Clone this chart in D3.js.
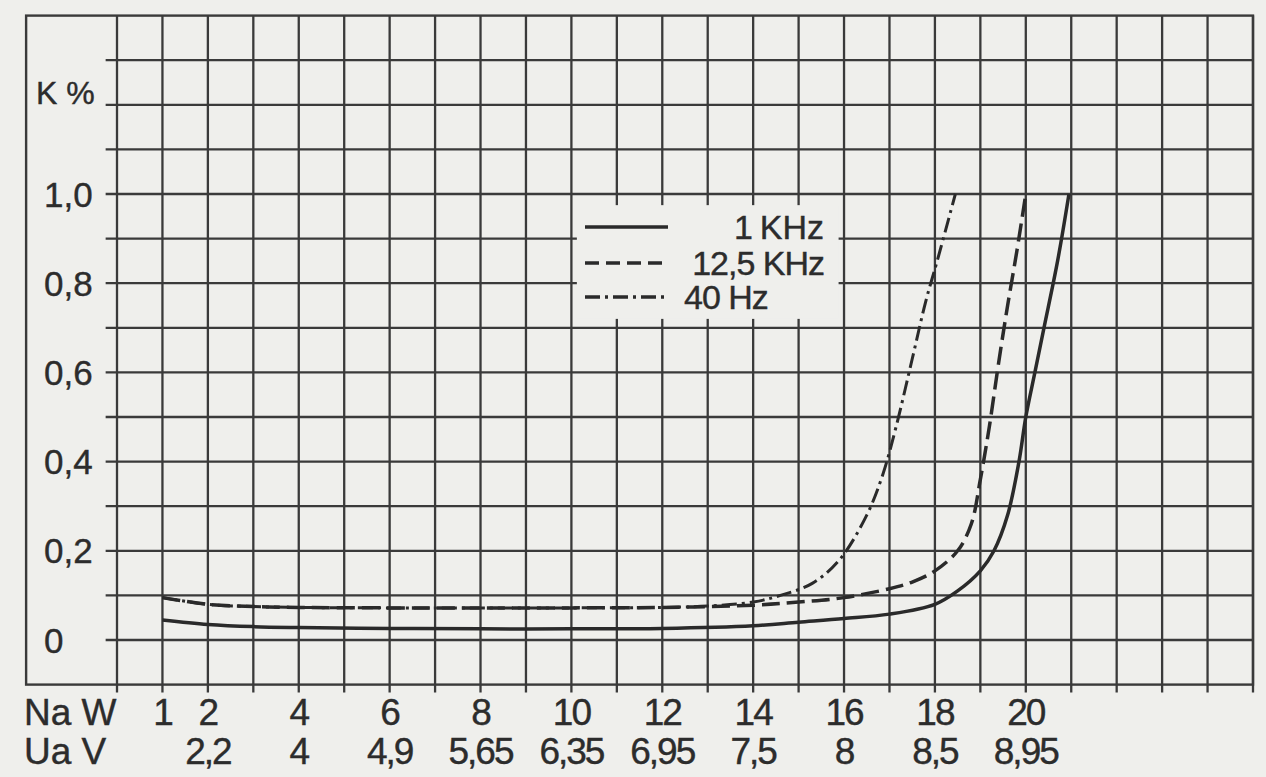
<!DOCTYPE html>
<html>
<head>
<meta charset="utf-8">
<script src="https://cdn.jsdelivr.net/npm/d3@7"></script>
<style>
  body { margin: 0; background: #efefec; }
  text { font-family: "Liberation Sans", Arial, sans-serif; fill: #2c2c2c; stroke: #2c2c2c; stroke-width: 0.4px; }
</style>
</head>
<body>
<svg id="viz" width="1266" height="777"></svg>
<script>
// x axis: output power Na (W) and output voltage Ua (V)
var naTicks = [1, 2, 4, 6, 8, 10, 12, 14, 16, 18, 20];
var uaTicks = [2.2, 4, 4.9, 5.65, 6.35, 6.95, 7.5, 8, 8.5, 8.95];
// y axis: distortion K %
var kTicks = [0, 0.2, 0.4, 0.6, 0.8, 1.0];

var seriesNames = ["1 KHz", "12,5 KHz", "40 Hz"];

// 1 KHz (solid)
var w1k = [1, 2, 3, 4, 6, 8, 10, 12, 14, 15, 16, 17, 18, 18.5, 19, 19.3, 19.6, 19.85, 20.0, 20.2, 20.4, 20.7, 20.95];
var k1k = [0.045, 0.035, 0.03, 0.028, 0.026, 0.025, 0.025, 0.026, 0.032, 0.04, 0.048, 0.058, 0.08, 0.11, 0.155, 0.2, 0.28, 0.40, 0.50, 0.60, 0.70, 0.85, 1.0];

// 12,5 KHz (dashed)
var w125k = [1, 2, 3, 4, 6, 8, 10, 12, 14, 15, 16, 17, 17.5, 18, 18.5, 18.8, 19.0, 19.2, 19.4, 19.6, 19.8, 20.0];
var k125k = [0.095, 0.08, 0.075, 0.073, 0.072, 0.072, 0.072, 0.073, 0.078, 0.085, 0.095, 0.115, 0.13, 0.155, 0.2, 0.26, 0.36, 0.48, 0.62, 0.75, 0.87, 1.0];

// 40 Hz (dash-dot)
var w40 = [1, 2, 3, 4, 6, 8, 10, 12, 13, 14, 14.6, 15.3, 15.9, 16.5, 16.85, 17.15, 17.5, 17.8, 18.05, 18.45];
var k40 = [0.095, 0.08, 0.075, 0.073, 0.072, 0.072, 0.072, 0.073, 0.076, 0.085, 0.10, 0.127, 0.18, 0.28, 0.37, 0.48, 0.63, 0.76, 0.85, 1.0];

var ink = "#2a2a2a"
  , grid = "#3a3a3a"
  , paper = "#efefec";

var x = d3.scaleLinear().domain([0, 25]).range([117, 1253])
  , y = d3.scaleLinear().domain([-0.1, 1.4]).range([684.6, 15.6]);

var commaNum = function(d){ return String(d).replace(".", ","); };
var kFmt = d3.formatLocale({decimal: ",", thousands: ".", grouping: [3], currency: ["", ""]}).format(".1f");

var svg = d3.select("#viz");

svg.append("rect")
    .attr("width", 1266).attr("height", 777)
    .attr("fill", paper);

// grid paper
var gridG = svg.append("g").attr("stroke", grid).attr("stroke-width", 2.3);

gridG.selectAll("line.v")
  .data(d3.range(0, 26))
  .enter().append("line")
    .attr("class", "v")
    .attr("x1", d => x(d)).attr("x2", d => x(d))
    .attr("y1", y(1.4)).attr("y2", y(-0.1) + 8);

gridG.selectAll("line.h")
  .data(d3.range(0, 14).map(i => i / 10))
  .enter().append("line")
    .attr("class", "h")
    .attr("x1", x(-0.25)).attr("x2", x(25))
    .attr("y1", d => y(d)).attr("y2", d => y(d));

// outer frame
svg.append("rect")
    .attr("x", x(-2)).attr("y", y(1.4))
    .attr("width", x(25) - x(-2))
    .attr("height", y(-0.1) - y(1.4))
    .attr("fill", "none")
    .attr("stroke", grid)
    .attr("stroke-width", 2.4);

// y labels
svg.append("g").selectAll("text")
  .data(kTicks)
  .enter().append("text")
    .attr("x", 44)
    .attr("y", d => y(d))
    .attr("dy", "0.36em")
    .attr("font-size", 35)
    .text(d => d === 0 ? "0" : kFmt(d));

svg.append("text")
    .attr("x", 36).attr("y", y(1.2) - 1)
    .attr("font-size", 32)
    .text("K %");

// x labels, two rows
svg.append("text")
    .attr("x", 24).attr("y", 725)
    .attr("font-size", 37)
    .text("Na W");
svg.append("text")
    .attr("x", 24).attr("y", 764)
    .attr("font-size", 37)
    .text("Ua V");

svg.append("g").selectAll("text")
  .data(naTicks)
  .enter().append("text")
    .attr("x", d => x(d))
    .attr("y", 725)
    .attr("text-anchor", "middle")
    .attr("font-size", 37)
    .attr("letter-spacing", -2)
    .text(d => d);

svg.append("g").selectAll("text")
  .data(uaTicks)
  .enter().append("text")
    .attr("x", (d, i) => x(naTicks[i + 1]))
    .attr("y", 764)
    .attr("text-anchor", "middle")
    .attr("font-size", 37)
    .attr("letter-spacing", -2)
    .text(d => commaNum(d));

// curves
var dashes = [null, "18,7", "15,5,3,5"];
var seriesData = [
  d3.zip(w1k, k1k),
  d3.zip(w125k, k125k),
  d3.zip(w40, k40)
];

var line = d3.line()
    .x(d => x(d[0]))
    .y(d => y(d[1]))
    .curve(d3.curveCatmullRom.alpha(0.5));

svg.append("g").selectAll("path")
  .data(seriesData)
  .enter().append("path")
    .attr("d", line)
    .attr("fill", "none")
    .attr("stroke", ink)
    .attr("stroke-width", (d, i) => i === 2 ? 3 : 3.5)
    .attr("stroke-dasharray", (d, i) => dashes[i]);

// legend: blank patch over the grid
svg.append("rect")
    .attr("x", x(10.12)).attr("y", y(0.975))
    .attr("width", x(15.88) - x(10.12))
    .attr("height", y(0.72) - y(0.975))
    .attr("fill", paper);

var legend = svg.append("g");
var rowY = [227, 263, 297];
seriesNames.forEach(function(name, i){
  legend.append("line")
      .attr("x1", 585).attr("x2", 668)
      .attr("y1", rowY[i]).attr("y2", rowY[i])
      .attr("stroke", ink)
      .attr("stroke-width", 3.5)
      .attr("stroke-dasharray", i === 1 ? "14,7" : dashes[i]);
  legend.append("text")
      .attr("x", i === 2 ? 684 : 824)
      .attr("y", rowY[i])
      .attr("dy", "0.36em")
      .attr("text-anchor", i === 2 ? "start" : "end")
      .attr("font-size", 34)
      .attr("letter-spacing", i === 0 ? 0 : -1)
      .text(i === 0 ? name.replace(" ", "\u2009") : name);
});
</script>
</body>
</html>
